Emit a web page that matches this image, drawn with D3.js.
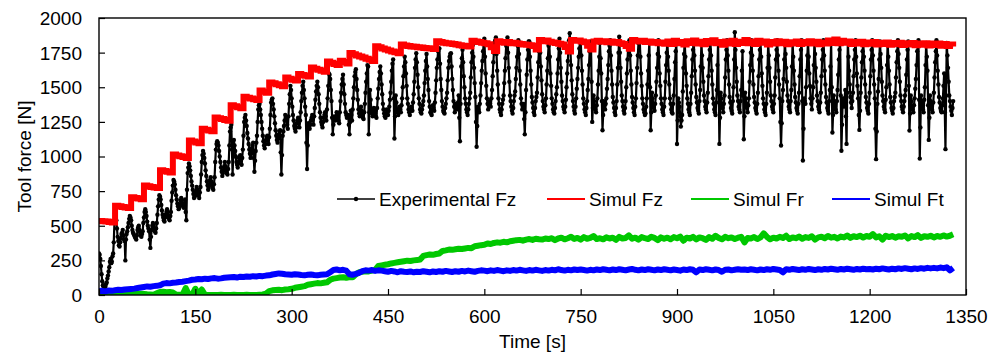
<!DOCTYPE html>
<html lang="en">
<head>
<meta charset="UTF-8">
<title>Tool force vs time</title>
<script src="https://cdnjs.cloudflare.com/ajax/libs/d3/7.8.5/d3.min.js"></script>
<style>
  body { margin: 0; background: #fff; }
  svg { display: block; font-family: "Liberation Sans", Arial, sans-serif; }
  .axis text { font-size: 19px; fill: #000; }
  .label { font-size: 19px; fill: #000; }
</style>
</head>
<body>
<svg id="chart" width="1003" height="356"></svg>
<script>
// sample spacing of the signals [s]
const expStep = 1;
const simStep = 5;

// Experimental Fz [N], one line = 10 s
const expFz = [
  300,290,260,210,150,100,70,60,50,55,
  60,80,90,120,140,170,200,240,260,230,
  240,280,300,380,520,590,600,540,480,420,
  390,360,350,380,410,440,450,470,430,400,
  390,250,400,440,460,490,520,550,570,560,
  540,500,470,450,440,430,420,410,400,430,
  470,490,500,470,450,430,420,440,460,520,
  560,600,620,600,570,530,500,480,460,400,
  340,420,470,500,520,500,480,460,450,480,
  520,580,640,690,720,710,690,650,610,580,
  560,540,530,560,580,600,620,600,570,550,
  540,570,600,680,740,790,830,820,800,760,
  720,690,660,640,620,630,650,680,700,680,
  660,640,630,660,690,600,540,760,880,920,
  950,930,900,860,820,790,760,730,700,710,
  720,750,780,760,740,720,700,740,780,870,
  960,1010,1040,1020,990,950,900,860,820,790,
  760,780,800,830,850,820,790,770,760,800,
  850,960,1050,1090,1110,1100,1080,1040,1000,960,
  920,890,860,880,900,930,960,930,900,880,
  870,910,960,1080,1180,1210,1230,1050,870,1000,
  1120,1080,1040,1000,960,940,920,950,990,1000,
  1010,970,940,990,1050,1150,1250,1280,1300,1260,
  1220,1170,1130,1090,1050,1020,990,1020,1060,1080,
  1100,990,890,970,1040,1100,1150,1250,1340,1370,
  1380,1340,1300,1250,1200,1150,1110,1080,1060,1090,
  1120,1140,1150,1120,1090,1140,1200,1300,1390,1410,
  1420,1380,1340,1290,1240,1190,1150,1120,1100,1130,
  1160,1180,1190,1030,870,1010,1150,1180,1220,1260,
  1300,1280,1260,1230,1200,1290,1380,1450,1510,1480,
  1420,1360,1300,1260,1220,1200,1180,1210,1240,1260,
  1280,1240,1210,1260,1320,1400,1460,1510,1540,1480,
  1420,1360,1300,1100,910,1080,1240,1220,1200,1230,
  1260,1280,1300,1270,1230,1290,1350,1410,1470,1510,
  1540,1500,1450,1380,1320,1280,1250,1230,1210,1250,
  1280,1300,1320,1290,1260,1340,1420,1510,1600,1590,
  1560,1480,1400,1280,1160,1230,1290,1270,1260,1290,
  1320,1300,1280,1260,1240,1320,1400,1460,1520,1560,
  1590,1520,1450,1380,1320,1300,1280,1290,1300,1230,
  1160,1250,1330,1300,1260,1340,1420,1500,1580,1610,
  1630,1560,1480,1410,1340,1310,1290,1320,1360,1330,
  1300,1280,1270,1320,1380,1460,1540,1600,1660,1650,
  1160,1320,1480,1410,1340,1310,1290,1320,1350,1330,
  1310,1290,1280,1350,1420,1490,1560,1610,1650,1600,
  1520,1450,1380,1340,1310,1290,1280,1310,1340,1320,
  1300,1330,1360,1410,1460,1540,1620,1670,1700,1420,
  1130,1290,1440,1390,1340,1320,1300,1330,1360,1340,
  1320,1370,1420,1500,1580,1650,1720,1680,1600,1510,
  1420,1380,1340,1320,1300,1330,1360,1350,1330,1390,
  1450,1540,1640,1700,1745,1680,1590,1500,1420,1380,
  1340,1320,1310,1340,1370,1400,1440,1530,1620,1690,
  1740,1650,1560,1480,1400,1360,1320,1310,1300,1340,
  1370,1350,1330,1390,1460,1550,1640,1700,1760,1780,
  1780,1670,1560,1480,1400,1360,1330,1320,1310,1350,
  1380,1420,1460,1550,1640,1690,1720,1740,1745,1650,
  1560,1480,1400,1360,1320,1350,1380,1360,1340,1390,
  1440,1280,1110,1380,1650,1710,1770,1680,1580,1500,
  1420,1380,1340,1320,1300,1340,1380,1420,1460,1570,
  1680,1750,1805,1720,1640,1530,1430,1250,1070,1220,
  1360,1340,1320,1380,1440,1530,1620,1690,1760,1810,
  1850,1720,1600,1510,1420,1380,1340,1370,1400,1380,
  1360,1420,1480,1580,1680,1750,1820,1840,1860,1740,
  1620,1520,1420,1380,1340,1320,1300,1340,1380,1410,
  1440,1530,1620,1710,1800,1830,1860,1750,1640,1540,
  1440,1400,1360,1330,1310,1350,1400,1440,1470,1560,
  1640,1720,1800,1840,1740,1620,1520,1420,1380,1340,
  1360,1380,1270,1160,1320,1480,1590,1700,1770,1830,
  1830,1720,1620,1520,1430,1390,1350,1320,1300,1350,
  1400,1430,1460,1570,1680,1760,1840,1750,1650,1550,
  1450,1400,1360,1340,1320,1370,1420,1520,1620,1710,
  1800,1840,1720,1600,1510,1420,1380,1340,1320,1310,
  1350,1400,1450,1500,1600,1700,1780,1850,1750,1640,
  1540,1440,1400,1360,1340,1320,1360,1410,1500,1600,
  1690,1780,1840,1890,1780,1660,1550,1450,1400,1360,
  1330,1310,1360,1420,1490,1560,1640,1720,1780,1840,
  1840,1730,1620,1520,1420,1380,1340,1320,1300,1350,
  1400,1480,1560,1660,1760,1800,1830,1540,1250,1350,
  1440,1400,1360,1340,1320,1370,1420,1520,1620,1720,
  1820,1710,1600,1400,1190,1300,1400,1370,1340,1380,
  1420,1490,1560,1660,1760,1800,1840,1730,1620,1520,
  1430,1390,1350,1320,1300,1350,1400,1520,1640,1750,
  1865,1750,1640,1540,1440,1400,1360,1330,1310,1350,
  1400,1500,1600,1700,1800,1820,1840,1730,1620,1520,
  1430,1390,1350,1320,1300,1360,1420,1530,1640,1730,
  1820,1830,1840,1720,1600,1510,1420,1380,1340,1320,
  1300,1310,1360,1420,1520,1620,1730,1830,1500,1190,
  1320,1460,1420,1380,1350,1330,1380,1440,1540,1640,
  1740,1840,1720,1600,1510,1420,1380,1340,1320,1300,
  1360,1420,1540,1660,1750,1830,1720,1620,1520,1420,
  1380,1340,1320,1310,1380,1440,1560,1680,1760,1840,
  1090,1260,1420,1390,1360,1290,1216,1260,1300,1470,
  1640,1740,1830,1720,1600,1510,1420,1380,1340,1320,
  1300,1380,1460,1580,1700,1770,1840,1730,1620,1520,
  1430,1390,1350,1330,1310,1400,1480,1650,1820,1730,
  1640,1540,1440,1400,1360,1340,1320,1390,1460,1580,
  1700,1770,1840,1730,1620,1520,1420,1380,1340,1320,
  1300,1390,1480,1660,1830,1460,1091,1280,1460,1420,
  1380,1350,1320,1380,1440,1570,1700,1770,1840,1730,
  1620,1520,1430,1390,1350,1330,1310,1400,1500,1700,
  1897,1770,1640,1540,1440,1400,1360,1340,1320,1400,
  1480,1620,1760,1440,1125,1290,1460,1420,1380,1350,
  1320,1370,1420,1540,1660,1750,1840,1730,1620,1520,
  1430,1390,1350,1330,1310,1380,1460,1580,1700,1770,
  1830,1720,1600,1510,1420,1380,1340,1320,1300,1380,
  1460,1640,1820,1730,1640,1540,1440,1400,1360,1340,
  1320,1380,1440,1570,1700,1770,1840,1730,1620,1520,
  1420,1250,1079,1240,1400,1480,1560,1700,1830,1740,
  1640,1540,1440,1400,1360,1340,1320,1400,1480,1650,
  1820,1720,1620,1520,1430,1390,1350,1330,1310,1380,
  1460,1580,1700,1770,1840,1400,971,1200,1420,1400,
  1380,1500,1620,1730,1830,1720,1600,1510,1420,1380,
  1340,1420,1500,1660,1830,1740,1640,1540,1440,1400,
  1360,1340,1320,1390,1460,1580,1700,1770,1840,1730,
  1620,1520,1430,1390,1350,1330,1310,1400,1480,1650,
  1830,1500,1173,1300,1440,1400,1360,1340,1320,1400,
  1480,1590,1700,1770,1840,1440,1041,1230,1420,1390,
  1360,1420,1480,1290,1091,1460,1830,1720,1620,1520,
  1430,1390,1350,1400,1460,1580,1700,1770,1840,1720,
  1600,1510,1420,1300,1192,1330,1460,1570,1680,1760,
  1830,1720,1620,1520,1430,1390,1350,1330,1310,1380,
  1460,1580,1700,1770,1840,1730,1620,1520,1420,1200,
  981,1180,1380,1470,1560,1700,1830,1740,1640,1540,
  1440,1400,1360,1340,1320,1410,1500,1660,1820,1720,
  1620,1520,1430,1390,1350,1330,1310,1350,1400,1430,
  1460,1570,1680,1760,1840,1740,1640,1540,1440,1400,
  1360,1340,1320,1360,1400,1440,1480,1590,1700,1770,
  1830,1510,1187,1310,1440,1400,1360,1340,1320,1370,
  1420,1490,1560,1660,1760,1800,1840,1410,985,1210,
  1440,1400,1360,1340,1320,1410,1500,1660,1820,1720,
  1620,1370,1120,1280,1440,1400,1360,1340,1320,1390,
  1460,1570,1680,1760,1840,1730,1620,1520,1430,1390,
  1350,1330,1320,1370,1420,1510,1600,1320,1053,1440,
  1820,1730,1640,1540,1440,1400,1360,1330,1300,1350,1400
];

// Simulated Fz [N], one row = 50 s
const simFz = [
  535,532,530,527,524, 645,640,636,632,628,
  705,700,696,692,790, 785,780,776,772,900,
  895,889,884,1015,1008, 1002,996,990,1115,1108,
  1101,1096,1200,1194,1188, 1183,1282,1276,1270,1264,
  1258,1370,1362,1356,1349, 1432,1425,1419,1413,1408,
  1476,1468,1461,1535,1528, 1521,1515,1508,1570,1562,
  1555,1548,1596,1589,1583, 1577,1642,1634,1626,1619,
  1612,1686,1676,1668,1660, 1692,1682,1672,1748,1738,
  1730,1722,1714,1706,1698, 1690,1796,1788,1780,1773,
  1766,1759,1752,1745,1808, 1802,1798,1794,1792,1789,
  1787,1784,1782,1779,1776, 1832,1826,1822,1818,1815,
  1812,1808,1804,1800,1797, 1794,1836,1830,1826,1822,
  1818,1810,1788,1762,1832, 1827,1822,1826,1818,1821,
  1815,1812,1809,1806,1803, 1798,1772,1842,1832,1837,
  1828,1824,1820,1814,1808, 1790,1758,1842,1835,1838,
  1830,1825,1800,1772,1830, 1836,1828,1833,1825,1830,
  1822,1826,1817,1813,1798, 1778,1842,1836,1830,1835,
  1826,1831,1821,1826,1817, 1823,1814,1830,1812,1835,
  1818,1826,1808,1832,1820, 1838,1815,1828,1810,1834,
  1822,1840,1818,1826,1806, 1830,1816,1835,1812,1828,
  1820,1842,1818,1830,1812, 1836,1822,1830,1808,1826,
  1815,1832,1818,1828,1810, 1825,1816,1830,1812,1826,
  1818,1832,1815,1828,1810, 1824,1816,1838,1820,1845,
  1818,1836,1822,1830,1812, 1826,1815,1828,1810,1824,
  1814,1826,1808,1822,1812, 1824,1806,1820,1810,1822,
  1805,1818,1808,1820,1804, 1816,1806,1818,1802,1815,
  1805,1816,1800,1812,1798, 1808,1795
];

// Simulated Fr [N]
const simFr = [
  0,0,2,4,6, 10,14,12,10,12,
  14,10,8,9,7, 5,4,2,12,22,
  24,20,22,18,4, 2,2,50,2,1,
  45,2,40,1,0, 0,0,0,1,0,
  0,0,1,0,0, 0,1,0,0,0,
  2,4,10,28,34, 36,38,35,40,42,
  45,52,56,60,64, 74,78,82,86,84,
  88,92,110,118,122, 126,128,124,130,128,
  150,165,168,172,170, 176,182,210,214,218,
  222,228,232,236,240, 244,248,246,250,252,
  256,282,288,292,290, 296,300,318,322,328,
  326,330,334,332,336, 340,338,352,356,360,
  362,372,368,376,380, 378,384,380,388,392,
  396,398,392,400,404, 398,406,402,400,408,
  404,410,396,408,414, 402,410,420,405,412,
  400,418,406,412,426, 404,410,402,416,408,
  414,398,420,408,412, 430,406,414,400,418,
  410,404,420,412,396, 416,406,414,402,418,
  410,422,392,414,408, 420,402,416,410,398,
  418,406,428,412,402, 420,410,416,404,414,
  420,380,412,408,418, 404,416,445,420,402,
  414,408,420,412,428, 404,416,410,422,406,
  418,412,424,400,416, 420,410,426,414,420,
  408,422,416,430,412, 424,418,428,415,426,
  420,440,416,424,400, 428,418,426,414,424,
  420,430,408,426,418, 432,412,424,420,428,
  416,426,420,430,422, 428,438
];

// Simulated Ft [N]
const simFt = [
  28,30,26,32,30, 34,38,36,40,42,
  44,46,50,54,58, 62,60,64,66,70,
  82,86,84,88,90, 94,96,100,104,110,
  112,116,114,118,116, 120,122,118,120,124,
  126,128,130,126,132, 130,134,132,136,134,
  138,136,140,142,148, 152,156,154,150,148,
  146,150,148,144,142, 146,148,144,142,146,
  148,150,165,180,184, 178,182,176,150,146,
  152,160,172,178,176, 180,174,178,176,172,
  168,174,170,164,172, 168,166,170,164,168,
  166,172,168,164,170, 166,172,168,174,170,
  166,172,168,174,170, 176,172,168,174,178,
  176,172,178,174,180, 176,172,178,174,180,
  176,182,178,174,180, 176,182,178,174,180,
  176,182,178,186,180, 176,182,178,184,180,
  184,180,176,182,178, 184,180,186,182,178,
  184,180,186,182,178, 184,188,182,178,184,
  180,186,182,178,184, 180,186,182,178,184,
  180,176,184,180,186, 182,164,184,180,186,
  182,178,184,180,168, 182,184,178,182,186,
  182,184,180,186,182, 178,184,180,186,182,
  188,184,180,164,186, 182,188,184,180,186,
  182,188,184,180,186, 182,188,184,190,186,
  182,188,184,190,186, 182,188,184,190,186,
  188,184,190,186,192, 188,184,190,186,192,
  188,194,190,186,192, 188,194,190,196,192,
  196,192,198,194,200, 178,196
];

const xTicks = [0, 150, 300, 450, 600, 750, 900, 1050, 1200, 1350];
const yTicks = [0, 250, 500, 750, 1000, 1250, 1500, 1750, 2000];

const seriesNames = ["Experimental Fz", "Simul Fz", "Simul Fr", "Simul Ft"];
const seriesColors = ["#000000", "#ff0000", "#00c800", "#0000ff"];

const margin = {top: 18, right: 37, bottom: 61, left: 99};
const W = 1003, H = 356;
const width = W - margin.left - margin.right;
const height = H - margin.top - margin.bottom;

const svg = d3.select("#chart");
const g = svg.append("g")
    .attr("transform", "translate(" + margin.left + "," + margin.top + ")");

const x = d3.scaleLinear().domain([0, 1350]).range([0, width]);
const y = d3.scaleLinear().domain([0, 2000]).range([height, 0]);

g.append("clipPath").attr("id", "plotClip")
  .append("rect").attr("width", width).attr("height", height);

const toPoints = (vals, step) => vals.map((v, i) => [i * step, v]);
const line = d3.line().x(d => x(d[0])).y(d => y(d[1]));
const stepLine = d3.line().x(d => x(d[0])).y(d => y(d[1])).curve(d3.curveStepAfter);

const plot = g.append("g").attr("clip-path", "url(#plotClip)");

// experimental: line + dot markers
const expPts = toPoints(expFz, expStep);
plot.append("path")
    .datum(expPts)
    .attr("fill", "none")
    .attr("stroke", seriesColors[0])
    .attr("stroke-width", 2.2)
    .attr("stroke-linejoin", "round")
    .attr("d", line);
plot.append("g").selectAll("circle")
    .data(expPts)
    .join("circle")
    .attr("cx", d => x(d[0]))
    .attr("cy", d => y(d[1]))
    .attr("r", 2.2)
    .attr("fill", seriesColors[0]);

// simulations
plot.append("path")
    .datum(toPoints(simFz, simStep))
    .attr("fill", "none")
    .attr("stroke", seriesColors[1])
    .attr("stroke-width", 6)
    .attr("d", stepLine);
[simFr, simFt].forEach((vals, k) => {
  plot.append("path")
      .datum(toPoints(vals, simStep))
      .attr("fill", "none")
      .attr("stroke", seriesColors[k + 2])
      .attr("stroke-width", 6)
      .attr("stroke-linejoin", "round")
      .attr("d", line);
});

// axes (ticks pointing inward)
const fmt = d3.format("d");
const xAxis = g.append("g")
    .attr("class", "axis")
    .attr("transform", "translate(0," + height + ")")
    .call(d3.axisBottom(x).tickValues(xTicks).tickFormat(fmt).tickSizeInner(-6).tickSizeOuter(0).tickPadding(15));
const yAxis = g.append("g")
    .attr("class", "axis")
    .call(d3.axisLeft(y).tickValues(yTicks).tickFormat(fmt).tickSizeInner(-6).tickSizeOuter(0).tickPadding(17));
[xAxis, yAxis].forEach(a => {
  a.select(".domain").remove();
  a.selectAll("line").attr("stroke", "#000").attr("stroke-width", 1.2);
  a.selectAll("text").style("font-family", "'Liberation Sans', Arial, sans-serif");
});
yAxis.selectAll("text").attr("dy", "0.34em");

// frame
g.append("rect")
    .attr("width", width).attr("height", height)
    .attr("fill", "none")
    .attr("stroke", "#000")
    .attr("stroke-width", 1.4);

// axis titles
svg.append("text")
    .attr("class", "label")
    .attr("x", margin.left + width / 2)
    .attr("y", 348)
    .attr("text-anchor", "middle")
    .text("Time [s]");
svg.append("text")
    .attr("class", "label")
    .attr("transform", "translate(31," + (margin.top + height / 2) + ") rotate(-90)")
    .attr("text-anchor", "middle")
    .text("Tool force [N]");

// legend (no box), one row inside the plot
const legendX = [337, 547, 691, 832];
const legendY = 199;
const leg = svg.append("g");
seriesNames.forEach((name, i) => {
  const item = leg.append("g").attr("transform", "translate(" + legendX[i] + "," + legendY + ")");
  item.append("line")
      .attr("x1", 0).attr("x2", 38)
      .attr("stroke", seriesColors[i])
      .attr("stroke-width", i === 0 ? 1.5 : 2);
  if (i === 0) {
    item.append("circle").attr("cx", 19).attr("r", 2.2).attr("fill", seriesColors[0]);
  }
  item.append("text")
      .attr("class", "label")
      .attr("x", 42)
      .attr("y", 7)
      .text(name);
});
</script>
</body>
</html>
